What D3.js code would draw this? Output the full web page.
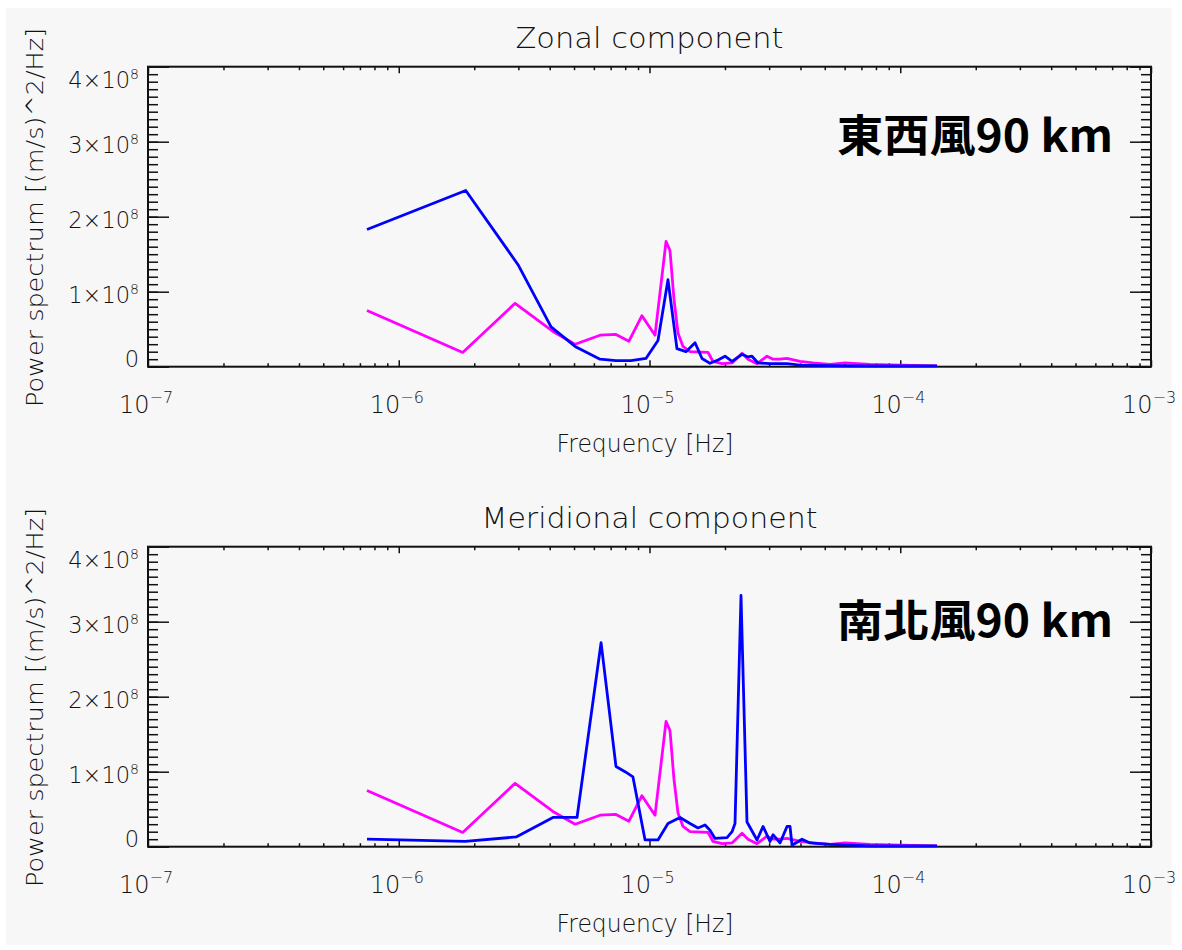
<!DOCTYPE html>
<html><head><meta charset="utf-8">
<script src="https://cdn.jsdelivr.net/npm/d3@7"></script>
<style>body{margin:0;background:#fff}</style>
</head><body>
<svg id="c" width="1182" height="950"></svg>
<script>
// ---- data (values in units of 1e8 (m/s)^2/Hz, frequency in Hz) ----
const magentaFreq = [7.47e-7, 1.80e-6, 2.91e-6, 4.12e-6, 5.05e-6, 6.35e-6, 7.35e-6, 8.28e-6, 9.33e-6, 1.052e-5,
  1.164e-5, 1.207e-5, 1.252e-5, 1.299e-5, 1.360e-5, 1.451e-5, 1.712e-5, 1.792e-5, 1.946e-5, 2.134e-5,
  2.339e-5, 2.471e-5, 2.684e-5, 2.942e-5, 3.108e-5, 3.315e-5, 3.535e-5, 3.983e-5, 4.488e-5, 5.246e-5,
  6.022e-5, 7.577e-5, 9.98e-5, 1.402e-4];
const magentaVal = [0.75, 0.19, 0.845, 0.47, 0.30, 0.42, 0.43, 0.34, 0.68, 0.42,
  1.67, 1.55, 0.90, 0.45, 0.27, 0.20, 0.19, 0.07, 0.04, 0.05,
  0.18, 0.10, 0.04, 0.14, 0.10, 0.10, 0.11, 0.07, 0.05, 0.03,
  0.05, 0.03, 0.02, 0.01];

const zonalFreq = [7.47e-7, 1.85e-6, 2.99e-6, 4.05e-6, 5.05e-6, 6.35e-6, 7.35e-6, 8.44e-6, 9.68e-6, 1.081e-5,
  1.185e-5, 1.287e-5, 1.398e-5, 1.519e-5, 1.620e-5, 1.743e-5, 1.876e-5, 2.001e-5, 2.134e-5, 2.339e-5,
  2.471e-5, 2.563e-5, 2.709e-5, 3.024e-5, 3.535e-5, 3.983e-5, 5.246e-5, 7.577e-5, 9.98e-5, 1.402e-4];
const zonalVal = [1.83, 2.35, 1.36, 0.53, 0.27, 0.10, 0.08, 0.08, 0.11, 0.35,
  1.16, 0.24, 0.20, 0.32, 0.11, 0.045, 0.09, 0.14, 0.07, 0.165,
  0.13, 0.14, 0.05, 0.04, 0.04, 0.02, 0.015, 0.01, 0.01, 0.01];

const meridFreq = [7.47e-7, 1.84e-6, 2.94e-6, 4.12e-6, 5.14e-6, 6.41e-6, 7.35e-6, 7.99e-6, 8.59e-6, 9.60e-6,
  1.081e-5, 1.185e-5, 1.323e-5, 1.451e-5, 1.561e-5, 1.665e-5, 1.743e-5, 1.825e-5, 2.038e-5, 2.134e-5,
  2.193e-5, 2.317e-5, 2.448e-5, 2.684e-5, 2.836e-5, 3.024e-5, 3.108e-5, 3.315e-5, 3.535e-5, 3.634e-5,
  3.701e-5, 4.057e-5, 4.366e-5, 5.246e-5, 7.577e-5, 1.402e-4];
const meridVal = [0.10, 0.07, 0.13, 0.39, 0.39, 2.72, 1.07, 1.00, 0.93, 0.09,
  0.09, 0.31, 0.39, 0.31, 0.25, 0.29, 0.22, 0.11, 0.12, 0.20,
  0.31, 3.35, 0.33, 0.09, 0.27, 0.07, 0.16, 0.05, 0.27, 0.27,
  0.02, 0.10, 0.05, 0.03, 0.01, 0.01];

const panelTitles = ["Zonal component", "Meridional component"];
const panelLabels = ["東西風90 km", "南北風90 km"];
const xTickValues = [1e-7, 1e-6, 1e-5, 1e-4, 1e-3];
const xTickExponents = ["\u22127", "\u22126", "\u22125", "\u22124", "\u22123"];
const yTickValues = [0, 1, 2, 3, 4];
const yTickMantissas = ["0", "1\u00d710", "2\u00d710", "3\u00d710", "4\u00d710"];
const yTickExponent = "8";
const xAxisTitle = "Frequency [Hz]";
const yAxisTitle = "Power spectrum [(m/s)^2/Hz]";

// ---- drawing ----
const svg = d3.select("#c");
svg.append("rect").attr("x", 6).attr("y", 8).attr("width", 1166).attr("height", 937).attr("fill", "#f7f7f7");

const ink = "#111";
const idlFont = "'DejaVu Sans', sans-serif";
const titleWidths = [268, 336];
const X0 = 148, X1 = 1151;
const x = d3.scaleLog().domain([1e-7, 1e-3]).range([X0, X1]);

const minorX = [];
for (let e = -7; e <= -4; e++) for (let m = 2; m <= 9; m++) minorX.push(m * Math.pow(10, e));
const minorY = d3.range(0, 40).map(i => i / 10);

const seriesSets = [
  [{f: magentaFreq, v: magentaVal, c: "#ff00ff"}, {f: zonalFreq, v: zonalVal, c: "#0000ff"}],
  [{f: magentaFreq, v: magentaVal, c: "#ff00ff"}, {f: meridFreq, v: meridVal, c: "#0000ff"}]
];

[66.7, 546.7].forEach((top, p) => {
  const bottom = top + 300;
  const y = d3.scaleLinear().domain([0, 4]).range([bottom, top]);
  const g = svg.append("g");

  function styleAxis(sel) {
    sel.select(".domain").remove();
    sel.selectAll("line").attr("stroke", ink).attr("stroke-width", 1.5);
  }
  g.append("g").attr("transform", `translate(0,${bottom})`)
    .call(d3.axisBottom(x).tickValues(minorX).tickSize(-3.5).tickFormat("")).call(styleAxis);
  g.append("g").attr("transform", `translate(0,${bottom})`)
    .call(d3.axisBottom(x).tickValues(xTickValues).tickSize(-6.5).tickFormat("")).call(styleAxis);
  g.append("g").attr("transform", `translate(0,${top})`)
    .call(d3.axisTop(x).tickValues(minorX).tickSize(-3.5).tickFormat("")).call(styleAxis);
  g.append("g").attr("transform", `translate(0,${top})`)
    .call(d3.axisTop(x).tickValues(xTickValues).tickSize(-6.5).tickFormat("")).call(styleAxis);
  g.append("g").attr("transform", `translate(${X0},0)`)
    .call(d3.axisLeft(y).tickValues(minorY).tickSize(-10).tickFormat("")).call(styleAxis);
  g.append("g").attr("transform", `translate(${X0},0)`)
    .call(d3.axisLeft(y).tickValues(yTickValues).tickSize(-21).tickFormat("")).call(styleAxis);
  g.append("g").attr("transform", `translate(${X1},0)`)
    .call(d3.axisRight(y).tickValues(minorY).tickSize(-10).tickFormat("")).call(styleAxis);
  g.append("g").attr("transform", `translate(${X1},0)`)
    .call(d3.axisRight(y).tickValues(yTickValues).tickSize(-21).tickFormat("")).call(styleAxis);

  g.append("rect").attr("x", X0).attr("y", top).attr("width", X1 - X0).attr("height", 300)
    .attr("fill", "none").attr("stroke", ink).attr("stroke-width", 2);

  xTickValues.forEach((v, i) => {
    const t = g.append("text").attr("x", x(v) - 2).attr("y", bottom + 46)
      .attr("text-anchor", "middle").attr("font-family", idlFont).attr("font-weight", 200)
      .attr("font-size", 24).attr("fill", ink);
    t.append("tspan").text("10");
    t.append("tspan").attr("dy", -10).attr("font-size", 16).text(xTickExponents[i]);
  });
  yTickValues.forEach((v, i) => {
    const off = i === 0 ? 0 : (i === yTickValues.length - 1 ? 21.5 : 11.5);
    const t = g.append("text").attr("x", 139).attr("y", y(v) + off)
      .attr("text-anchor", "end").attr("font-family", idlFont).attr("font-weight", 200)
      .attr("font-size", 22.5).attr("fill", ink);
    t.append("tspan").text(yTickMantissas[i]);
    if (i > 0) t.append("tspan").attr("dy", -9).attr("font-size", 14).text(yTickExponent);
  });

  g.append("text").attr("x", 649.5).attr("y", top - 18.5).attr("text-anchor", "middle")
    .attr("font-family", idlFont).attr("font-weight", 200).attr("font-size", 28).attr("fill", ink)
    .attr("textLength", titleWidths[p]).attr("lengthAdjust", "spacingAndGlyphs").text(panelTitles[p]);
  g.append("text").attr("x", 645).attr("y", bottom + 85).attr("text-anchor", "middle")
    .attr("font-family", idlFont).attr("font-weight", 200).attr("font-size", 24).attr("fill", ink)
    .attr("textLength", 177).attr("lengthAdjust", "spacingAndGlyphs").text(xAxisTitle);
  g.append("text").attr("transform", `translate(43.3,${top + 150.8}) rotate(-90)`).attr("text-anchor", "middle")
    .attr("font-family", idlFont).attr("font-weight", 200).attr("font-size", 23).attr("fill", ink)
    .attr("textLength", 379).attr("lengthAdjust", "spacingAndGlyphs").text(yAxisTitle);

  const line = d3.line().x(d => x(d[0])).y(d => y(d[1]));
  seriesSets[p].forEach(s => {
    const pts = s.f.map((f, i) => [f, s.v[i]]);
    g.append("path").datum(pts).attr("d", line).attr("fill", "none")
      .attr("stroke", s.c).attr("stroke-width", 2.8).attr("stroke-linejoin", "round");
  });

  g.append("text").attr("x", 1113).attr("y", top + (p === 0 ? 85.3 : 90.3)).attr("text-anchor", "end")
    .attr("font-family", "'Noto Sans CJK TC', 'Noto Sans CJK SC', sans-serif").attr("font-weight", 700)
    .attr("font-size", 44).attr("fill", "#000")
    .attr("textLength", 276).attr("lengthAdjust", "spacingAndGlyphs").text(panelLabels[p]);
});
</script>
</body></html>
